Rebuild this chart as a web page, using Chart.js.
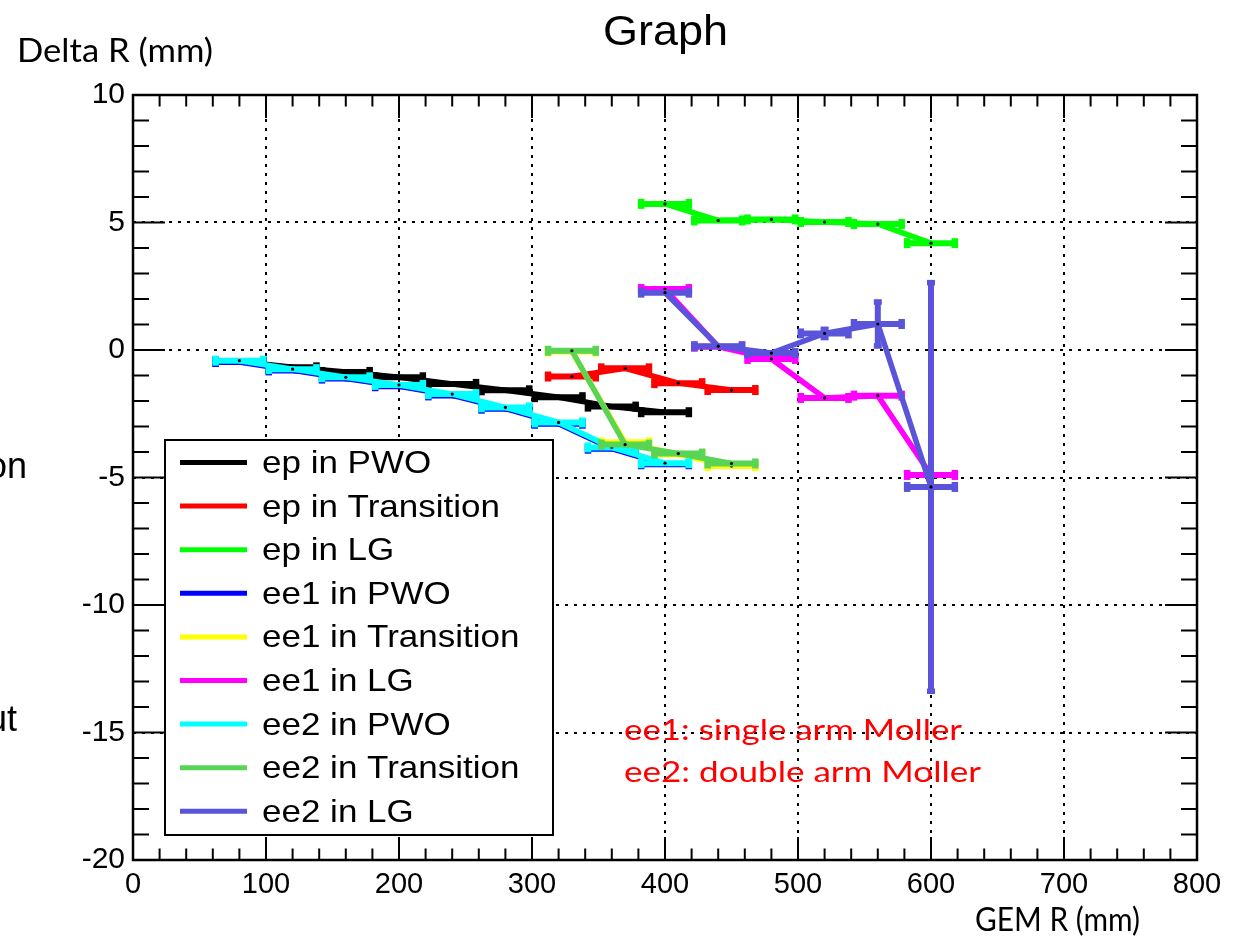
<!DOCTYPE html>
<html><head><meta charset="utf-8">
<script src="https://cdn.jsdelivr.net/npm/chart.js@4.4.1/dist/chart.umd.min.js"></script>
<style>html,body{margin:0;padding:0;background:#fff;overflow:hidden}canvas{display:block}</style>
</head><body>
<canvas id="c" width="1234" height="943"></canvas>
<script>
// ---------------- data ----------------
const seriesNames = ["ep in PWO","ep in Transition","ep in LG","ee1 in PWO","ee1 in Transition","ee1 in LG","ee2 in PWO","ee2 in Transition","ee2 in LG"];
const seriesColors = ["#000000","#ff0000","#00ff00","#0000ff","#ffff00","#ff00ff","#00ffff","#59d454","#5954d9"];

const epPWO_x   = [80,120,160,200,240,280,320,360,400];
const epPWO_y   = [-0.45,-0.68,-0.86,-1.07,-1.33,-1.58,-1.85,-2.22,-2.44];
const epTrans_x = [330,370,410,450];
const epTrans_y = [-1.04,-0.72,-1.30,-1.57];
const epLG_x    = [400,440,480,520,560,600];
const epLG_y    = [5.73,5.08,5.12,5.02,4.94,4.19];
const ee1PWO_x  = [80,120,160,200,240,280,320,360,400];
const ee1PWO_y  = [-0.47,-0.80,-1.12,-1.42,-1.78,-2.30,-2.89,-3.87,-4.48];
const ee1Trans_x= [330,370,410,450];
const ee1Trans_y= [-0.06,-3.62,-4.10,-4.55];
const ee1LG_x   = [400,440,480,520,560,600];
const ee1LG_y   = [2.39,0.13,-0.35,-1.88,-1.79,-4.90];
const ee2PWO_x  = [80,120,160,200,240,280,320,360,400];
const ee2PWO_y  = [-0.42,-0.75,-1.07,-1.37,-1.73,-2.25,-2.84,-3.82,-4.44];
const ee2Trans_x= [330,370,410,450];
const ee2Trans_y= [-0.03,-3.71,-4.06,-4.45];
const ee2LG_x   = [400,440,480,520,560,600];
const ee2LG_y   = [2.25,0.15,-0.12,0.65,1.02,-5.37];
const ee2LG_yerr= [0.10,0.10,0.15,0.25,0.95,8.10];
const binHalfWidth = 20;   // x error (mm) of every point
const defaultYErr = 0.1;

const xTicks = [0,100,200,300,400,500,600,700,800];
const yTicks = [-20,-15,-10,-5,0,5,10];

// ---------------- build datasets ----------------
const seriesX = [epPWO_x,epTrans_x,epLG_x,ee1PWO_x,ee1Trans_x,ee1LG_x,ee2PWO_x,ee2Trans_x,ee2LG_x];
const seriesY = [epPWO_y,epTrans_y,epLG_y,ee1PWO_y,ee1Trans_y,ee1LG_y,ee2PWO_y,ee2Trans_y,ee2LG_y];
const seriesYErr = [null,null,null,null,null,null,null,null,ee2LG_yerr];

const datasets = seriesNames.map((name,i)=>({
  label: name,
  data: seriesX[i].map((x,k)=>({x:x, y:seriesY[i][k], ex:binHalfWidth, ey: seriesYErr[i]?seriesYErr[i][k]:defaultYErr})),
  showLine: true,
  borderColor: seriesColors[i],
  backgroundColor: seriesColors[i],
  borderWidth: 5.5,
  tension: 0,
  pointRadius: 1.6,
  pointBackgroundColor: '#000',
  pointBorderWidth: 0,
  order: seriesNames.length - 1 - i
}));

const SANS = 'Liberation Sans';
const CAL = 'Lato';

function fitText(ctx, text, left, right, baseline, size, family, color){
  ctx.save();
  ctx.font = size + 'px "' + family + '"';
  ctx.fillStyle = color;
  ctx.textAlign = 'left';
  ctx.textBaseline = 'alphabetic';
  const w = ctx.measureText(text).width;
  const sx = (right-left)/w;
  ctx.translate(left, baseline);
  ctx.scale(sx,1);
  ctx.fillText(text,0,0);
  ctx.restore();
}

const rootPlugin = {
  id:'rootStyle',
  beforeDatasetsDraw(chart){
    const {ctx, chartArea:a, scales:{x,y}} = chart;
    ctx.save();
    ctx.strokeStyle = '#000';
    ctx.lineWidth = 2;
    ctx.setLineDash([3,6]);
    xTicks.forEach(v=>{
      if (v===x.min || v===x.max) return;
      const px = Math.round(x.getPixelForValue(v));
      ctx.beginPath(); ctx.moveTo(px,a.bottom); ctx.lineTo(px,a.top); ctx.stroke();
    });
    yTicks.forEach(v=>{
      if (v===y.min || v===y.max) return;
      const py = Math.round(y.getPixelForValue(v));
      ctx.beginPath(); ctx.moveTo(a.left,py); ctx.lineTo(a.right,py); ctx.stroke();
    });
    ctx.restore();
  },
  beforeDatasetDraw(chart,args){
    const {ctx, scales:{x,y}} = chart;
    const ds = chart.data.datasets[args.index];
    ctx.save();
    ctx.strokeStyle = ds.borderColor;
    ctx.fillStyle = ds.borderColor;
    ctx.lineWidth = 6;
    ctx.lineCap = 'butt';
    ds.data.forEach(p=>{
      const px = x.getPixelForValue(p.x), py = y.getPixelForValue(p.y);
      const xl = x.getPixelForValue(p.x-p.ex), xr = x.getPixelForValue(p.x+p.ex);
      ctx.beginPath(); ctx.moveTo(xl,py); ctx.lineTo(xr,py); ctx.stroke();
      ctx.fillRect(xl-0.5, py-5, 6.5, 10);
      ctx.fillRect(xr-6, py-5, 6.5, 10);
      const yt = y.getPixelForValue(p.y+p.ey), yb = y.getPixelForValue(p.y-p.ey);
      if (yb-yt > 10){
        ctx.beginPath(); ctx.moveTo(px,yt); ctx.lineTo(px,yb); ctx.stroke();
        ctx.fillRect(px-4, yt-0.5, 8, 5.5);
        ctx.fillRect(px-4, yb-5, 8, 5.5);
      }
    });
    ctx.restore();
  },
  afterDatasetsDraw(chart){
    const {ctx, chartArea:a, scales:{x,y}} = chart;
    ctx.save();
    // frame
    ctx.strokeStyle='#000'; ctx.lineWidth=2.5;
    ctx.strokeRect(a.left, a.top, a.right-a.left, a.bottom-a.top);
    // ticks on all sides
    ctx.lineWidth=2;
    for (let v=x.min; v<=x.max; v+=20){
      const px = x.getPixelForValue(v);
      const len = (v%100===0)?23:11.5;
      ctx.beginPath(); ctx.moveTo(px,a.bottom); ctx.lineTo(px,a.bottom-len);
      ctx.moveTo(px,a.top); ctx.lineTo(px,a.top+len); ctx.stroke();
    }
    for (let v=y.min; v<=y.max; v+=1){
      const py = y.getPixelForValue(v);
      const len = (v%5===0)?32:16;
      ctx.beginPath(); ctx.moveTo(a.left,py); ctx.lineTo(a.left+len,py);
      ctx.moveTo(a.right,py); ctx.lineTo(a.right-len,py); ctx.stroke();
    }
    // legend
    const L=165, T=440, R=553, B=835;
    ctx.fillStyle='#fff'; ctx.fillRect(L,T,R-L,B-T);
    ctx.strokeStyle='#000'; ctx.lineWidth=2; ctx.strokeRect(L,T,R-L,B-T);
    ctx.font = '32px "'+SANS+'"';
    const refW = ctx.measureText('ep in Transition').width;
    const sx = 238/refW;
    chart.data.datasets.forEach((ds,i)=>{
      const cy = 462.5 + i*43.6;
      ctx.strokeStyle = ds.borderColor; ctx.lineWidth=5;
      ctx.beginPath(); ctx.moveTo(180,cy); ctx.lineTo(247,cy); ctx.stroke();
      ctx.save();
      ctx.fillStyle='#000'; ctx.textBaseline='alphabetic'; ctx.textAlign='left';
      ctx.translate(262, cy+10.5); ctx.scale(sx,1);
      ctx.fillText(ds.label,0,0);
      ctx.restore();
    });
    ctx.restore();
  },
  afterDraw(chart){
    const ctx = chart.ctx;
    fitText(ctx,'Graph',603,728,45,43,SANS,'#000');
    fitText(ctx,'Delta R (mm)',17,213,62,33,CAL,'#000');
    fitText(ctx,'GEM R (mm)',975,1140,931,33,CAL,'#000');
    fitText(ctx,'ee1: single arm Moller',624,962,740,29,CAL,'#ff0000');
    fitText(ctx,'ee2: double arm Moller',624,981,782,29,CAL,'#ff0000');
    ctx.save();
    ctx.fillStyle='#000'; ctx.textAlign='right'; ctx.textBaseline='alphabetic';
    ctx.font='36px "'+SANS+'"';
    ctx.fillText('on',27,478);
    ctx.fillText('ut',17,731);
    ctx.restore();
  }
};

new Chart(document.getElementById('c').getContext('2d'), {
  type:'scatter',
  data:{datasets},
  options:{
    responsive:false, animation:false, devicePixelRatio:1,
    layout:{padding:{top:95,right:37,left:0,bottom:0}},
    plugins:{legend:{display:false}, title:{display:false}, tooltip:{enabled:false}},
    scales:{
      x:{type:'linear', min:0, max:800,
         afterBuildTicks(s){ s.ticks = xTicks.map(v=>({value:v})); },
         ticks:{font:{family:SANS,size:29}, color:'#000', padding:8, maxRotation:0, autoSkip:false},
         grid:{display:false, drawTicks:false}, border:{display:false},
         afterFit(s){ s.height = 83; }},
      y:{type:'linear', min:-20, max:10,
         afterBuildTicks(s){ s.ticks = yTicks.map(v=>({value:v})); },
         ticks:{font:{family:SANS,size:30}, color:'#000', padding:8, autoSkip:false},
         grid:{display:false, drawTicks:false}, border:{display:false},
         afterFit(s){ s.width = 133; }}
    }
  },
  plugins:[rootPlugin]
});
</script>
</body></html>
